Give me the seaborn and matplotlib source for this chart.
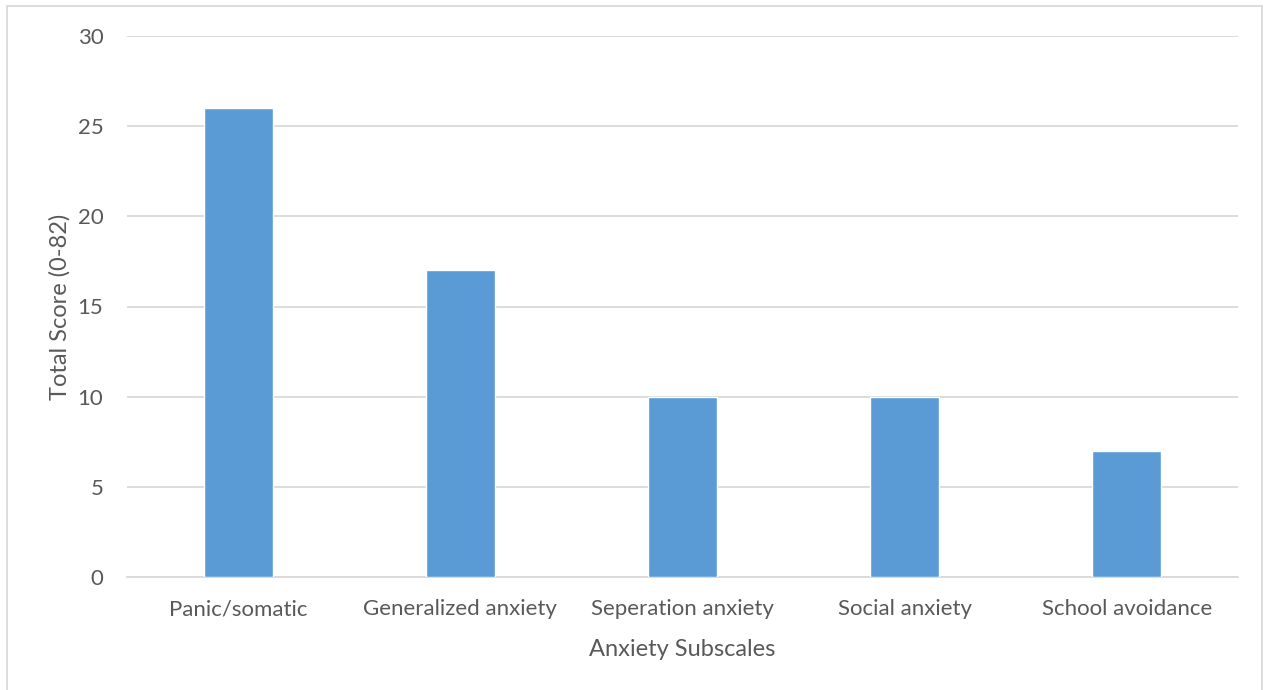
import matplotlib
matplotlib.use("Agg")
import matplotlib.pyplot as plt
import seaborn as sns
import pandas as pd
from matplotlib.patches import Rectangle

categories = ["Panic/somatic", "Generalized anxiety", "Seperation anxiety", "Social anxiety", "School avoidance"]
scores = [26, 17, 10, 10, 7]
yticks = [0, 5, 10, 15, 20, 25, 30]

sns.set_theme(style="white")
plt.rcParams['font.family'] = ['Lato', 'DejaVu Sans']

df = pd.DataFrame({"Subscale": categories, "Score": scores})

fig = plt.figure(figsize=(12.68, 6.9), dpi=100)
ax = fig.add_axes([127/1268, 1-577/690, (1238-127)/1268, (577-36)/690])

sns.barplot(data=df, x="Subscale", y="Score", color="#5B9BD5", width=0.31,
            saturation=1, ax=ax, zorder=3)

ax.set_ylim(0, 30)
ax.set_yticks(yticks)
ax.set_xlim(-0.5, len(categories) - 0.5)
ax.yaxis.grid(True, color="#D9D9D9", linewidth=1.3, zorder=0)
ax.xaxis.grid(False)
for s in ["top", "right", "left"]:
    ax.spines[s].set_visible(False)
ax.spines["bottom"].set_color("#D9D9D9")
ax.spines["bottom"].set_linewidth(1.3)
ax.tick_params(axis="both", length=0, labelsize=16, labelcolor="#595959")
ax.tick_params(axis="y", pad=17)
ax.tick_params(axis="x", pad=16)
ax.set_xlabel("Anxiety Subscales", fontsize=17, color="#595959", labelpad=14)
ax.set_ylabel("Total Score (0-82)", fontsize=17, color="#595959", labelpad=5)

fig.patches.append(Rectangle((7/1268, -0.01), (1262-7)/1268, 1-6/690 + 0.01,
                             transform=fig.transFigure, fill=False,
                             edgecolor="#D9D9D9", linewidth=1.3))

fig.savefig("out.png", dpi=100, facecolor="white")
